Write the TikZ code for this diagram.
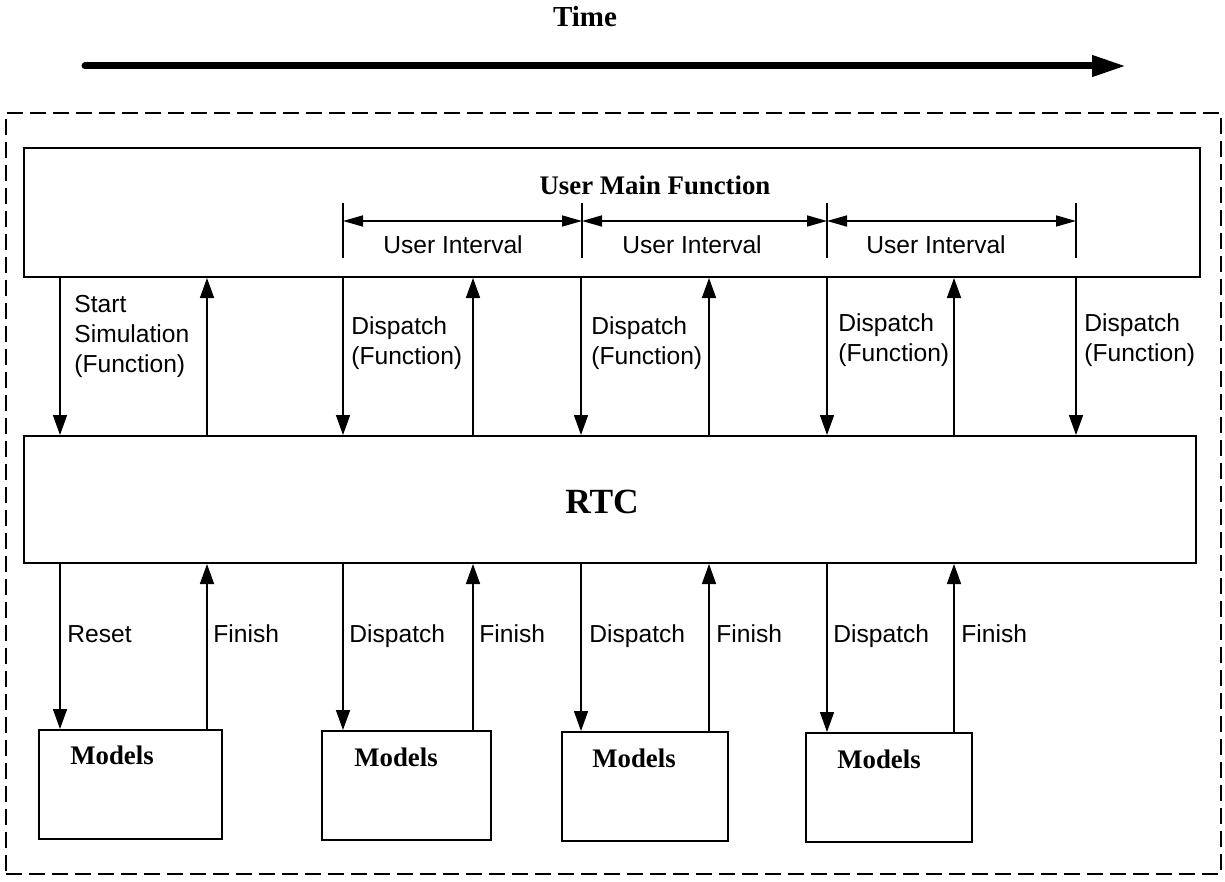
\documentclass[tikz,border=0pt]{standalone}
\usepackage{fontspec}
\setmainfont{Liberation Serif}
\newfontfamily\lab{Liberation Sans}
\usetikzlibrary{arrows.meta}
\begin{document}
\begin{tikzpicture}[x=0.5pt,y=-0.5pt,
  box/.style={draw,line width=1pt,inner sep=0pt,anchor=north west},
  arr/.style={line width=0.8pt,-{Triangle[length=10pt,width=7pt]}},
  ivl/.style={line width=0.8pt,{Triangle[length=10pt,width=5.5pt]}-{Triangle[length=10pt,width=5.5pt]}},
  tick/.style={line width=0.8pt},
  lbl/.style={font=\lab\fontsize{12.3}{15}\selectfont,inner sep=0pt,align=left},
  bold/.style={font=\bfseries\fontsize{13.4}{16}\selectfont,inner sep=0pt},
  frame/.style={draw,line width=1.2pt,dash pattern=on 8pt off 3.5pt,inner sep=0pt,anchor=north west}
]
\useasboundingbox (0,0) rectangle (1225,882);

% title and time arrow
\node[bold,font=\bfseries\fontsize{14.5}{17}\selectfont] (time) at (585,17) {Time};
\coordinate (ts) at (85,66);
\coordinate (te) at (1126,66);
\draw[line width=3.5pt,line cap=round,-{Triangle[length=17pt,width=10pt]}] (ts) -- (te);

% dashed frame
\node[frame,minimum width=607.5pt,minimum height=380.5pt] (frm) at (5,112) {};

% main boxes
\node[box,minimum width=588pt,minimum height=64.5pt] (umf) at (23,147) {};
\node[box,minimum width=586pt,minimum height=63.5pt] (rtc) at (23,435) {};
\node[box,minimum width=91.5pt,minimum height=54.5pt] (m1) at (38,729) {};
\node[box,minimum width=84.5pt,minimum height=54.5pt] (m2) at (321,730) {};
\node[box,minimum width=83pt,minimum height=54.5pt] (m3) at (561,731) {};
\node[box,minimum width=83pt,minimum height=54.5pt] (m4) at (805,732) {};

\node[bold] (umft) at (655,185) {User Main Function};
\node[bold,font=\bfseries\fontsize{17.7}{20}\selectfont] (rtct) at (602,502) {RTC};
\node[bold,anchor=base] (m1t) at (112,764) {Models};
\node[bold,anchor=base] (m2t) at (396,766) {Models};
\node[bold,anchor=base] (m3t) at (634,767) {Models};
\node[bold,anchor=base] (m4t) at (879,768) {Models};

% user intervals
\foreach \i/\x in {1/343,2/582,3/827,4/1076}{
  \coordinate (i\i) at (\x,221);
  \coordinate (ta\i) at (\x,203);
  \coordinate (tb\i) at (\x,258);
  \draw[tick] (ta\i) -- (tb\i);
}
\draw[ivl] (i1) -- (i2);
\draw[ivl] (i2) -- (i3);
\draw[ivl] (i3) -- (i4);
\node[lbl,anchor=base] (ui1) at (453,254) {User Interval};
\node[lbl,anchor=base] (ui2) at (692,254) {User Interval};
\node[lbl,anchor=base] (ui3) at (936,254) {User Interval};

% x positions of connectors
\foreach \x in {60,207,343,473,581,709,827,954,1076}
  \coordinate (c\x) at (\x,0);

% top connectors
\foreach \x in {60,343,581,827,1076}
  \draw[arr] (umf.south -| c\x) -- (rtc.north -| c\x);
\foreach \x in {207,473,709,954}
  \draw[arr] (rtc.north -| c\x) -- (umf.south -| c\x);

% bottom connectors
\foreach \x/\m in {60/m1,343/m2,581/m3,827/m4}
  \draw[arr] (rtc.south -| c\x) -- (\m.north -| c\x);
\foreach \x/\m in {207/m1,473/m2,709/m3,954/m4}
  \draw[arr] (\m.north -| c\x) -- (rtc.south -| c\x);

% top labels
\node[lbl,anchor=north west] (ls) at (74,295) {Start\\Simulation\\(Function)};
\node[lbl,anchor=north west] (ld1) at (351,316) {Dispatch\\(Function)};
\node[lbl,anchor=north west] (ld2) at (591,316) {Dispatch\\(Function)};
\node[lbl,anchor=north west] (ld3) at (838,313) {Dispatch\\(Function)};
\node[lbl,anchor=north west] (ld4) at (1084,313) {Dispatch\\(Function)};

% bottom labels
\node[lbl,anchor=base west] (br) at (67,642) {Reset};
\node[lbl,anchor=base west] (bf1) at (213,642) {Finish};
\node[lbl,anchor=base west] (bd1) at (349,642) {Dispatch};
\node[lbl,anchor=base west] (bf2) at (479,642) {Finish};
\node[lbl,anchor=base west] (bd2) at (589,642) {Dispatch};
\node[lbl,anchor=base west] (bf3) at (716,642) {Finish};
\node[lbl,anchor=base west] (bd3) at (833,642) {Dispatch};
\node[lbl,anchor=base west] (bf4) at (961,642) {Finish};
\end{tikzpicture}
\end{document}
